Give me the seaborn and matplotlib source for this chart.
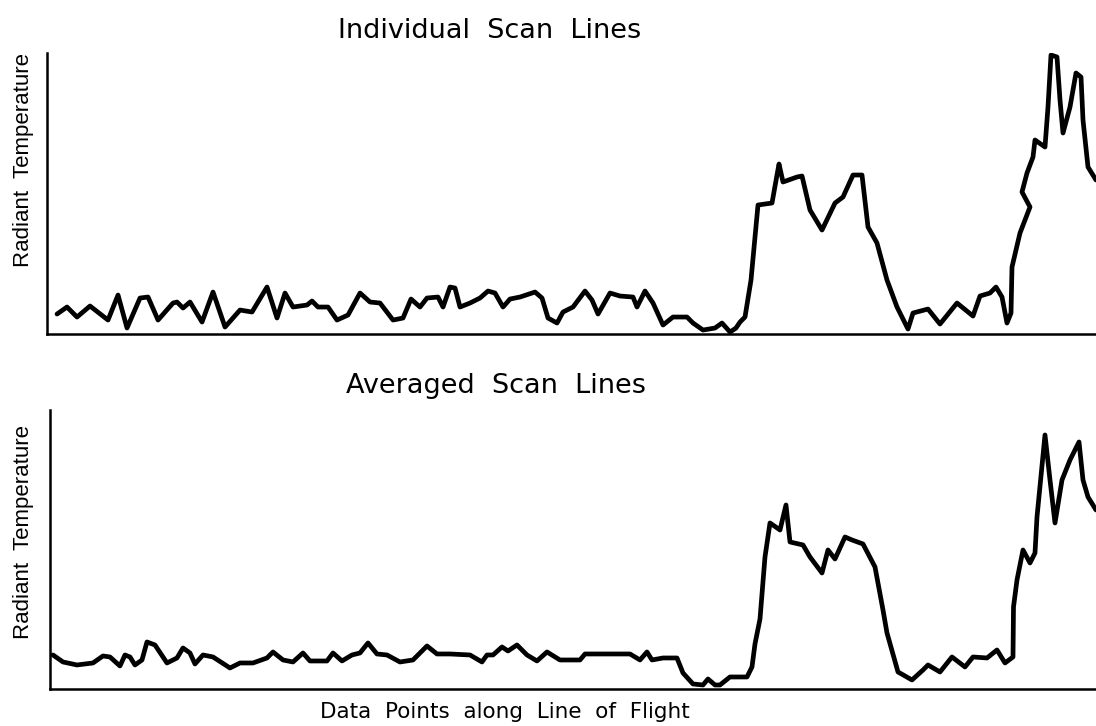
import matplotlib
matplotlib.use("Agg")
import matplotlib.pyplot as plt
import seaborn as sns
import pandas as pd

# traced profile, individual scan lines (data point, radiant temperature)
ind_x = [57, 67, 77, 90, 108, 118, 127, 140, 148, 158, 173, 177, 183, 190, 202,
         213, 225, 240, 252, 267, 277, 285, 293, 307, 312, 318, 328, 337, 348,
         360, 370, 380, 393, 403, 411, 420, 427, 438, 443, 450, 455, 460, 470,
         480, 488, 495, 503, 510, 520, 535, 542, 548, 557, 563, 573, 585, 592,
         598, 610, 620, 633, 637, 645, 653, 663, 673, 687, 693, 703, 715, 722,
         730, 736, 740, 745, 751, 755, 758, 772, 777, 779, 783, 797, 802, 810,
         822, 835, 843, 853, 862, 868, 877, 887, 897, 908, 913, 928, 940, 957,
         973, 980, 990, 996, 1002, 1007, 1011, 1012, 1020, 1030, 1022, 1027,
         1033, 1035, 1045, 1048, 1051, 1057, 1060, 1063, 1070, 1076, 1081, 1083,
         1088, 1096]
ind_t = [20, 27, 17, 28, 14, 39, 6, 36, 37, 14, 31, 32, 26, 32, 12,
         42, 7, 24, 22, 47, 16, 41, 27, 29, 33, 27, 27, 14, 19,
         41, 32, 31, 14, 16, 35, 27, 36, 37, 27, 47, 46, 27, 31,
         36, 43, 41, 27, 35, 37, 42, 36, 16, 11, 22, 27, 43, 34,
         20, 41, 38, 37, 27, 43, 31, 9, 17, 17, 11, 4, 6, 11,
         2, 6, 12, 17, 54, 97, 129, 131, 159, 170, 152, 157, 158, 124,
         104, 131, 137, 159, 159, 107, 91, 54, 27, 5, 21, 25, 10, 31,
         18, 38, 41, 47, 37, 11, 21, 67, 101, 127, 142, 161,
         177, 194, 187, 227, 279, 277, 234, 201, 227, 261, 257, 214,
         167, 154]

# traced profile, averaged scan lines
avg_x = [53, 63, 77, 93, 103, 110, 120, 125, 130, 135, 142, 147, 155, 167, 177,
         183, 190, 195, 203, 213, 230, 240, 253, 267, 273, 283, 293, 303, 310,
         327, 333, 342, 352, 360, 368, 377, 387, 400, 413, 420, 427, 437, 450,
         470, 482, 487, 493, 502, 508, 517, 527, 537, 547, 560, 580, 585, 600,
         630, 640, 647, 652, 663, 677, 683, 693, 703, 708, 715, 720, 730, 747,
         752, 755, 760, 765, 770, 780, 786, 790, 803, 810, 822, 828, 835, 845,
         852, 863, 875, 883, 887, 898, 912, 923, 928, 940, 952, 965, 973, 987,
         997, 1005, 1013, 1013.5, 1017, 1023, 1030, 1035, 1037, 1045, 1050, 1055,
         1062, 1070, 1079, 1083, 1088, 1096]
avg_t = [34, 27, 24, 26, 33, 32, 23, 34, 32, 24, 29, 47, 44, 26, 31,
         41, 36, 25, 34, 32, 21, 26, 26, 31, 37, 29, 27, 36, 28,
         28, 36, 28, 34, 36, 46, 35, 34, 27, 29, 36, 43, 35, 35,
         34, 27, 34, 34, 42, 38, 44, 34, 28, 37, 29, 29, 35, 35,
         35, 29, 37, 29, 31, 31, 16, 5, 4, 10, 4, 4, 12, 12,
         22, 45, 70, 132, 166, 159, 184, 147, 144, 132, 116, 139, 130, 152,
         149, 145, 122, 79, 56, 17, 9, 19, 24, 17, 32, 22, 32, 31,
         39, 26, 32, 82, 109, 139, 126, 136, 172, 254, 209, 166,
         209, 229, 247, 209, 192, 179]

ind_df = pd.DataFrame({"point": ind_x, "temp": ind_t})
avg_df = pd.DataFrame({"point": avg_x, "temp": avg_t})

sns.set_style("white")
plt.rcParams['font.family'] = ['DejaVu Sans']
plt.rcParams['text.color'] = 'black'
plt.rcParams['axes.labelcolor'] = 'black'

fig = plt.figure(figsize=(10.96, 7.26), dpi=100)
ax1 = fig.add_axes([0.0429, 0.5399, 0.9571, 0.3871])
ax2 = fig.add_axes([0.0456, 0.0510, 0.9544, 0.3843])

line_kw = dict(color='black', linewidth=3.4, sort=False, estimator=None,
               solid_capstyle='round', solid_joinstyle='round')
sns.lineplot(data=ind_df, x="point", y="temp", ax=ax1, **line_kw)
sns.lineplot(data=avg_df, x="point", y="temp", ax=ax2, **line_kw)

ax1.set_xlim(47, 1096)
ax1.set_ylim(0, 281)
ax2.set_xlim(50, 1096)
ax2.set_ylim(0, 279)

for ax in (ax1, ax2):
    sns.despine(ax=ax)
    ax.set_xticks([])
    ax.set_yticks([])
    for s in ('left', 'bottom'):
        ax.spines[s].set_linewidth(1.8)
        ax.spines[s].set_color('black')
    ax.set_xlabel('')
    ax.set_ylabel('Radiant  Temperature', family=['Liberation Sans', 'DejaVu Sans'],
                  fontsize=16, va='center', color='black')

ax1.yaxis.set_label_coords(-0.022, 0.619)
ax2.yaxis.set_label_coords(-0.025, 0.563)

ax1.set_title('Individual  Scan  Lines', fontsize=19.5, x=0.422, y=1.025,
              va='baseline', color='black')
ax2.set_title('Averaged  Scan  Lines', fontsize=19.5, x=0.426, y=1.032,
              va='baseline', color='black')

ax2.set_xlabel('Data  Points  along  Line  of  Flight', fontsize=15.5,
               va='baseline', color='black')
ax2.xaxis.set_label_coords(0.435, -0.104)

plt.savefig('out.png', dpi=100)
plt.close()
